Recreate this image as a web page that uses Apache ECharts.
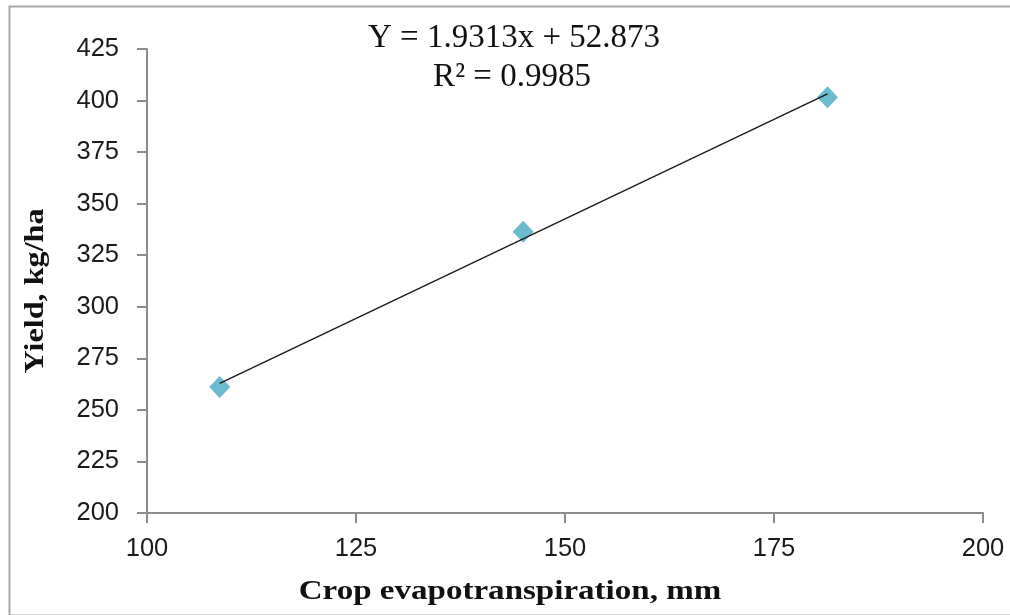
<!DOCTYPE html>
<html>
<head>
<meta charset="utf-8">
<script src="https://cdn.jsdelivr.net/npm/echarts@6/dist/echarts.min.js"></script>
<style>
html,body{margin:0;padding:0;background:#fff;}
#chart{width:1010px;height:615px;}
</style>
</head>
<body>
<div id="chart"></div>
<script>
// Data
var etValues = [108.7, 145.0, 181.4];        // Crop evapotranspiration, mm
var yieldValues = [261.1, 336.4, 401.6];     // Yield, kg/ha
var trendSlope = 1.9313;
var trendIntercept = 52.873;
var rSquared = 0.9985;
var xTicks = [100, 125, 150, 175, 200];
var yTicks = [200, 225, 250, 275, 300, 325, 350, 375, 400, 425];

var points = etValues.map(function (x, i) { return [x, yieldValues[i]]; });
var xFirst = etValues[0], xLast = etValues[etValues.length - 1];
var trend = [
  [xFirst, trendSlope * xFirst + trendIntercept],
  [xLast, trendSlope * xLast + trendIntercept]
];

var chart = echarts.init(document.getElementById('chart'), null, {renderer: 'canvas'});
var axisColor = '#8c8c8c';
var tickFont = {fontFamily: 'Liberation Sans', fontSize: 25.5, color: '#1a1a1a'};

chart.setOption({
  animation: false,
  backgroundColor: '#fff',
  grid: {left: 147, right: 27, top: 49, bottom: 102, containLabel: false},
  xAxis: {
    type: 'value',
    min: xTicks[0], max: xTicks[xTicks.length - 1], interval: 25,
    axisLine: {show: true, lineStyle: {color: axisColor, width: 2}},
    axisTick: {show: true, inside: false, length: 10, lineStyle: {color: axisColor, width: 2}},
    splitLine: {show: false},
    axisLabel: Object.assign({margin: 23}, tickFont)
  },
  yAxis: {
    type: 'value',
    min: yTicks[0], max: yTicks[yTicks.length - 1], interval: 25,
    axisLine: {show: true, lineStyle: {color: axisColor, width: 2}},
    axisTick: {show: true, inside: false, length: 10, lineStyle: {color: axisColor, width: 2}},
    splitLine: {show: false},
    axisLabel: Object.assign({margin: 28}, tickFont)
  },
  series: [
    {
      type: 'scatter',
      data: points,
      symbol: 'diamond',
      symbolSize: [21, 22],
      itemStyle: {color: '#47a9c4'},
      z: 2
    },
    {
      type: 'line',
      data: trend,
      symbol: 'none',
      lineStyle: {color: '#1a1a1a', width: 1.4},
      z: 3
    }
  ],
  graphic: [
    {
      type: 'rect',
      left: 7, top: 4,
      shape: {width: 1020, height: 609},
      style: {fill: 'none', stroke: '#a6a6a6', lineWidth: 2},
      silent: true
    },
    {
      type: 'text',
      x: 514, y: 38,
      style: {
        text: 'Y = ' + trendSlope + 'x + ' + trendIntercept,
        font: '33px "Liberation Serif"', fill: '#111',
        align: 'center', verticalAlign: 'middle'
      }
    },
    {
      type: 'text',
      x: 512, y: 77,
      style: {
        text: 'R\u00B2 = ' + rSquared,
        font: '33px "Liberation Serif"', fill: '#111',
        align: 'center', verticalAlign: 'middle'
      }
    },
    {
      type: 'text',
      x: 510, y: 592,
      scaleX: 1.18,
      style: {
        text: 'Crop evapotranspiration, mm',
        font: 'bold 28px "Liberation Serif"', fill: '#111',
        align: 'center', verticalAlign: 'middle'
      }
    },
    {
      type: 'text',
      x: 36, y: 291,
      rotation: Math.PI / 2,
      scaleX: 1.15,
      style: {
        text: 'Yield, kg/ha',
        font: 'bold 28px "Liberation Serif"', fill: '#111',
        align: 'center', verticalAlign: 'middle'
      }
    }
  ]
});
</script>
</body>
</html>
